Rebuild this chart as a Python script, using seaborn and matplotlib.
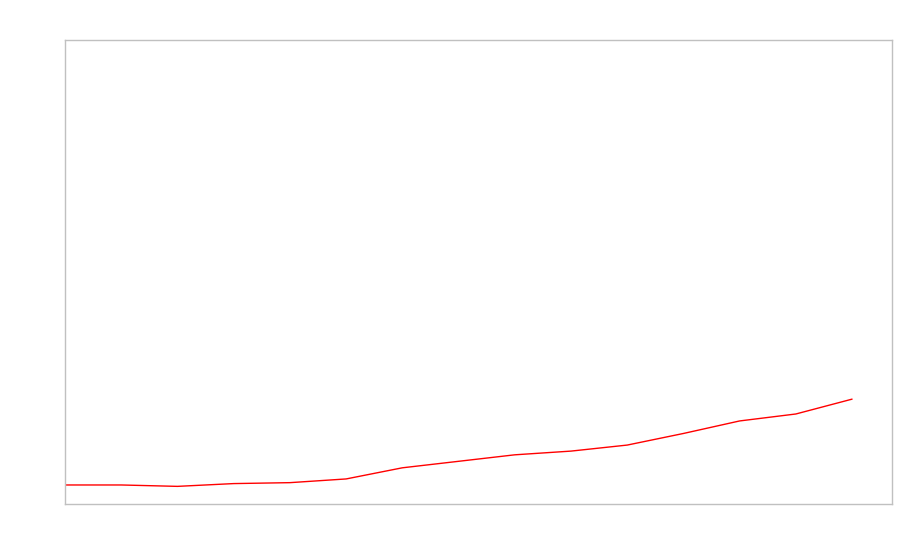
import matplotlib
matplotlib.use("Agg")
import matplotlib.pyplot as plt
import seaborn as sns
import pandas as pd

# Data (axis units arbitrary, 0-100 scale)
periods = list(range(15))
values = [4.1, 4.1, 3.8, 4.4, 4.6, 5.4, 7.8, 9.2, 10.6, 11.4, 12.7, 15.2, 17.9, 19.4, 22.6]

df = pd.DataFrame({"period": periods, "value": values})

sns.set_theme(style="white")
fig = plt.figure(figsize=(9, 5.6), dpi=100)
ax = fig.add_axes([65/900, 56/560, 827/900, 464/560])

sns.lineplot(data=df, x="period", y="value", ax=ax, color="#ff0000", linewidth=1.0)

ax.set_xlim(0, 14.71)
ax.set_ylim(0, 100)
ax.set_xticks([])
ax.set_yticks([])
ax.set_xlabel("")
ax.set_ylabel("")
for s in ax.spines.values():
    s.set_color("#c0c0c0")
    s.set_linewidth(1.0)

fig.savefig("out.png", dpi=100)
